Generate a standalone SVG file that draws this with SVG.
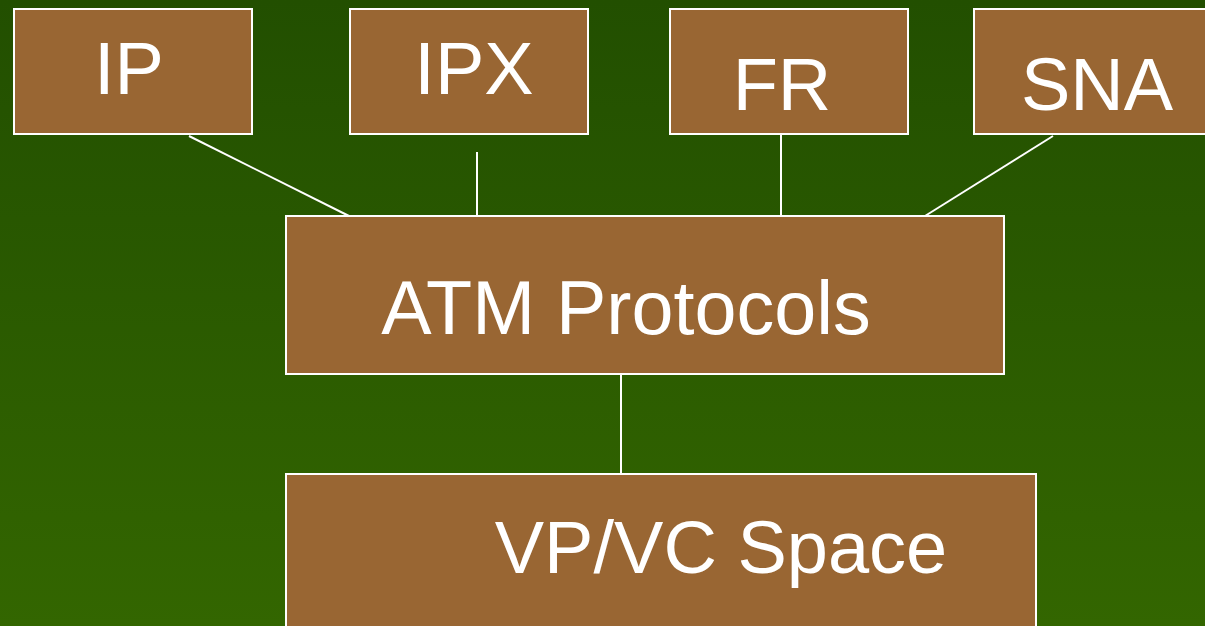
<svg xmlns="http://www.w3.org/2000/svg" width="1205" height="626" viewBox="0 0 1205 626">
  <defs>
    <linearGradient id="bg" x1="0" y1="0" x2="0" y2="1">
      <stop offset="0" stop-color="#224f00"/>
      <stop offset="1" stop-color="#336600"/>
    </linearGradient>
  </defs>
  <style>
    .box { fill: #996633; stroke: #ffffff; stroke-width: 2; }
    .lbl { fill: #ffffff; font-family: "Liberation Sans", Arial, sans-serif; font-size: 74px; text-anchor: middle; }
    .conn line { stroke: #ffffff; stroke-width: 2; }
  </style>
  <rect x="0" y="0" width="1205" height="626" fill="url(#bg)"/>

  <g id="connectors" class="conn">
    <line x1="189" y1="136" x2="349" y2="216"/>
    <line x1="477" y1="152" x2="477" y2="216"/>
    <line x1="781" y1="135" x2="781" y2="216"/>
    <line x1="1053" y1="136" x2="925" y2="216"/>
    <line x1="621" y1="375" x2="621" y2="473"/>
  </g>

  <g id="ip">
    <rect class="box" x="14" y="9" width="238" height="125"/>
    <text class="lbl" x="129" y="94">IP</text>
  </g>
  <g id="ipx">
    <rect class="box" x="350" y="9" width="238" height="125"/>
    <text class="lbl" x="474" y="94">IPX</text>
  </g>
  <g id="fr">
    <rect class="box" x="670" y="9" width="238" height="125"/>
    <text class="lbl" x="782" y="110">FR</text>
  </g>
  <g id="sna">
    <rect class="box" x="974" y="9" width="240" height="125"/>
    <text class="lbl" x="1097" y="110">SNA</text>
  </g>
  <g id="atm">
    <rect class="box" x="286" y="216" width="718" height="158"/>
    <text class="lbl" x="626" y="334" style="font-size:75.5px">ATM Protocols</text>
  </g>
  <g id="vpvc">
    <rect class="box" x="286" y="474" width="750" height="170"/>
    <text class="lbl" x="721" y="573">VP/VC Space</text>
  </g>
</svg>
